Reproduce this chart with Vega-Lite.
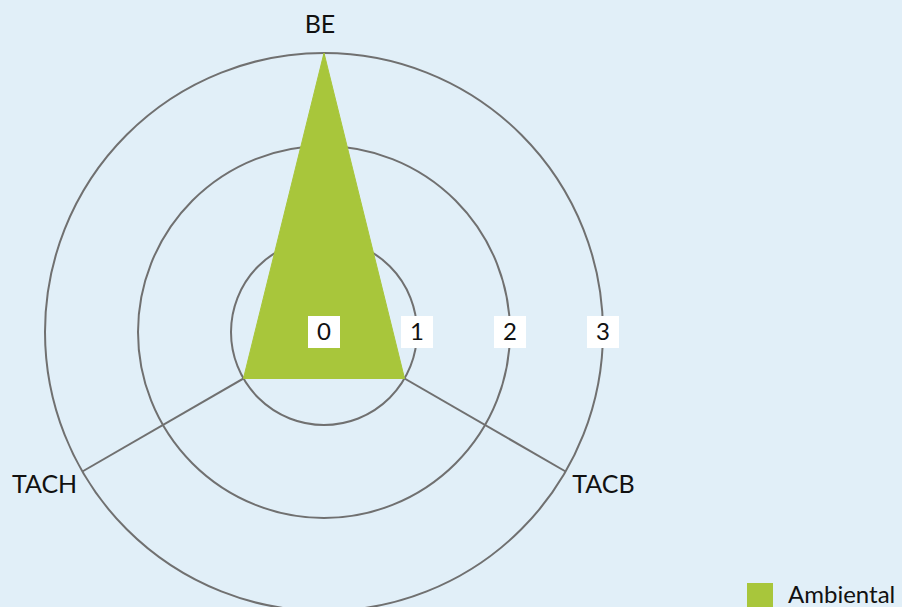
{
  "$schema": "https://vega.github.io/schema/vega-lite/v6.json",
  "width": 902,
  "height": 607,
  "padding": 0,
  "autosize": {"type": "none"},
  "background": "#e1eff8",
  "config": {"view": {"stroke": null}, "font": "Lato"},
  "datasets": {
    "axes": [
      {"axis": "BE", "i": 0, "value": 3, "serie": "Ambiental"},
      {"axis": "TACB", "i": 1, "value": 1, "serie": "Ambiental"},
      {"axis": "TACH", "i": 2, "value": 1, "serie": "Ambiental"}
    ],
    "rings": [{"r": 1}, {"r": 2}, {"r": 3}],
    "ticks": [{"t": 0}, {"t": 1}, {"t": 2}, {"t": 3}]
  },
  "resolve": {"scale": {"x": "shared", "y": "shared"}},
  "layer": [
    {
      "data": {"name": "rings"},
      "transform": [{"calculate": "0", "as": "c"}],
      "mark": {"type": "arc", "theta": 0, "theta2": 6.2832, "filled": false, "stroke": "#707070", "strokeWidth": 2},
      "encoding": {
        "x": {"field": "c", "type": "quantitative", "scale": {"domain": [-3.4839, 6.2151], "nice": false, "zero": false}, "axis": null},
        "y": {"field": "c", "type": "quantitative", "scale": {"domain": [-2.957, 3.5699], "nice": false, "zero": false}, "axis": null},
        "radius": {"field": "r", "type": "quantitative", "stack": null, "scale": {"type": "linear", "domain": [0, 3], "range": [0, 279], "zero": true}}
      }
    },
    {
      "data": {"name": "axes"},
      "transform": [
        {"calculate": "0", "as": "c"},
        {"calculate": "datum.i * 2 * PI / 3", "as": "ang"},
        {"calculate": "3 * sin(datum.ang)", "as": "ex"},
        {"calculate": "3 * cos(datum.ang)", "as": "ey"}
      ],
      "mark": {"type": "rule", "stroke": "#707070", "strokeWidth": 2},
      "encoding": {
        "x": {"field": "c", "type": "quantitative"},
        "y": {"field": "c", "type": "quantitative"},
        "x2": {"field": "ex"},
        "y2": {"field": "ey"}
      }
    },
    {
      "data": {"name": "axes"},
      "transform": [
        {"calculate": "datum.i * 2 * PI / 3", "as": "ang"},
        {"calculate": "datum.value * sin(datum.ang)", "as": "px"},
        {"calculate": "datum.value * cos(datum.ang)", "as": "py"}
      ],
      "mark": {"type": "line", "interpolate": "linear-closed", "fill": "#a8c63b", "strokeWidth": 1},
      "encoding": {
        "x": {"field": "px", "type": "quantitative"},
        "y": {"field": "py", "type": "quantitative"},
        "order": {"field": "i", "type": "quantitative"},
        "color": {
          "field": "serie", "type": "nominal",
          "scale": {"range": ["#a8c63b"]},
          "legend": {
            "title": null, "orient": "none", "legendX": 747, "legendY": 583,
            "padding": 0, "symbolType": "square", "symbolSize": 676,
            "symbolFillColor": "#a8c63b", "symbolStrokeWidth": 0,
            "labelFont": "Lato", "labelFontSize": 24, "labelColor": "#111111",
            "labelOffset": 15
          }
        }
      }
    },
    {
      "data": {"name": "ticks"},
      "transform": [{"calculate": "0", "as": "c"}],
      "mark": {"type": "point", "shape": "square", "filled": true, "color": "white", "size": 1024, "opacity": 1},
      "encoding": {
        "x": {"field": "t", "type": "quantitative"},
        "y": {"field": "c", "type": "quantitative"}
      }
    },
    {
      "data": {"name": "ticks"},
      "transform": [{"calculate": "0", "as": "c"}],
      "mark": {"type": "text", "fontSize": 24, "font": "Lato", "color": "#111111", "baseline": "middle", "align": "center", "dy": 1},
      "encoding": {
        "x": {"field": "t", "type": "quantitative"},
        "y": {"field": "c", "type": "quantitative"},
        "text": {"field": "t", "type": "quantitative"}
      }
    },
    {
      "data": {"name": "axes"},
      "transform": [
        {"filter": "datum.i == 0"},
        {"calculate": "datum.i * 2 * PI / 3", "as": "ang"},
        {"calculate": "3.3 * sin(datum.ang)", "as": "lx"},
        {"calculate": "3.3 * cos(datum.ang)", "as": "ly"}
      ],
      "mark": {"type": "text", "fontSize": 25, "font": "Lato", "color": "#111111", "baseline": "middle", "align": "center", "dx": -4},
      "encoding": {
        "x": {"field": "lx", "type": "quantitative"},
        "y": {"field": "ly", "type": "quantitative"},
        "text": {"field": "axis", "type": "nominal"}
      }
    },
    {
      "data": {"name": "axes"},
      "transform": [
        {"filter": "datum.i != 0"},
        {"calculate": "datum.i * 2 * PI / 3", "as": "ang"},
        {"calculate": "3.47 * sin(datum.ang)", "as": "lx"},
        {"calculate": "3.47 * cos(datum.ang)", "as": "ly"}
      ],
      "mark": {"type": "text", "fontSize": 25, "font": "Lato", "color": "#111111", "baseline": "middle", "align": "center", "dy": -8},
      "encoding": {
        "x": {"field": "lx", "type": "quantitative"},
        "y": {"field": "ly", "type": "quantitative"},
        "text": {"field": "axis", "type": "nominal"}
      }
    }
  ]
}
